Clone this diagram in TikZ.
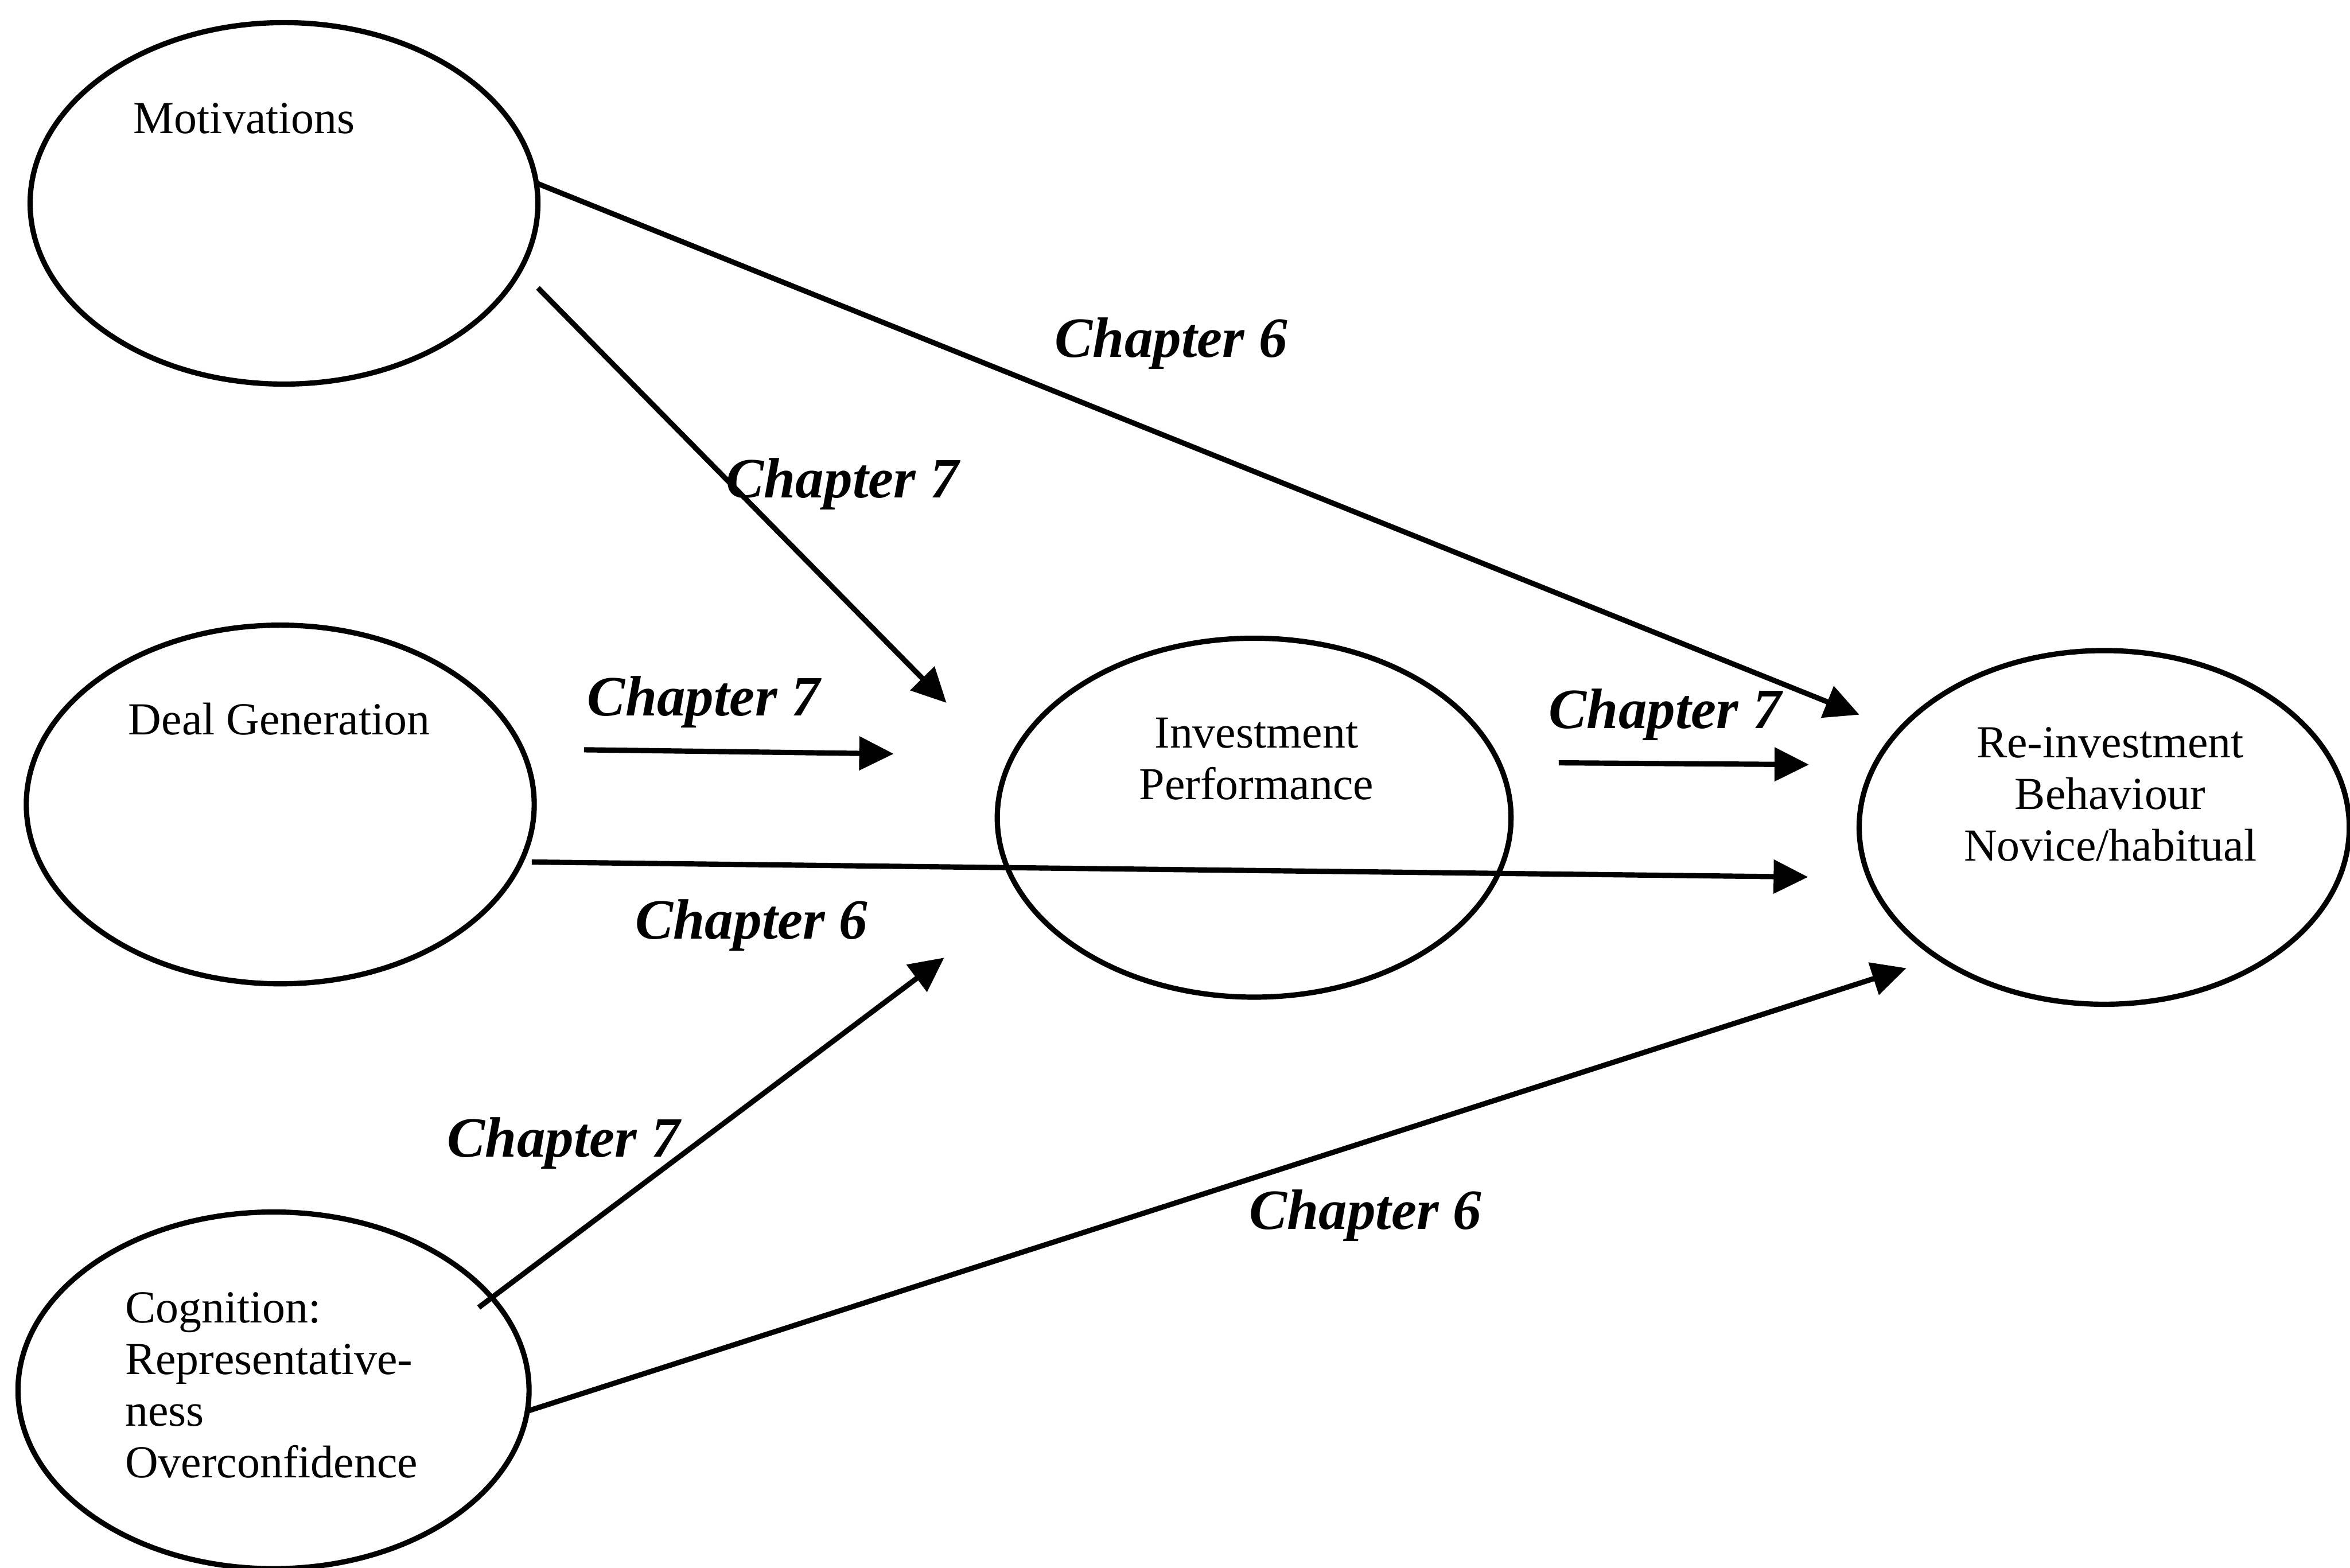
\documentclass[tikz,border=0pt]{standalone}
\usepackage{fontspec}
\setmainfont{Liberation Serif}
\usetikzlibrary{shapes.geometric,arrows.meta}

\tikzset{
  factor/.style={draw, ellipse, line width=1pt, inner sep=0pt},
  factortext/.style={font=\fontsize{8.7}{9.8}\selectfont, inner sep=0pt},
  chaplabel/.style={font=\fontsize{10.8}{12}\selectfont\bfseries\itshape, inner sep=0pt, anchor=base},
  link/.style={line width=1pt, -{Triangle[length=2.3mm, width=2.2mm]}}
}

\begin{document}
\begin{tikzpicture}
\useasboundingbox (0,0) rectangle (15.68,10.46);

% the five factors
\node[factor, minimum width=3.388cm, minimum height=2.412cm] (mot)   at (1.895,9.103) {};
\node[factor, minimum width=3.389cm, minimum height=2.393cm] (deal)  at (1.870,5.092) {};
\node[factor, minimum width=3.428cm, minimum height=2.395cm] (perf)  at (8.368,5.004) {};
\node[factor, minimum width=3.270cm, minimum height=2.360cm] (reinv) at (14.040,4.939) {};
\node[factor, minimum width=3.410cm, minimum height=2.380cm] (cog)   at (1.825,1.183) {};

% texts inside the ellipses (base anchor sits on the last line)
\node[factortext, anchor=base] (motT) at (1.630,9.568) {Motivations};
\node[factortext, anchor=base] (dealT) at (1.863,5.559) {Deal Generation};
\node[factortext, anchor=base, align=center] (perfT) at (8.383,5.126) {Investment\\Performance};
\node[factortext, anchor=base, align=center] (reinvT) at (14.080,4.716) {Re-investment\\Behaviour\\Novice/habitual};
\node[factortext, anchor=base west, align=left] (cogT) at (0.828,0.601) {Cognition:\\Representative-\\ness\\Overconfidence};

% free ends of the connectors
\coordinate (s1) at (3.589,9.234);  \coordinate (e1) at (12.406,5.691);
\coordinate (s2) at (3.589,8.539);  \coordinate (e2) at (6.315,5.770);
\coordinate (s3) at (3.897,5.457);  \coordinate (e3) at (5.963,5.430);
\coordinate (s4) at (3.548,4.708);  \coordinate (e4) at (12.064,4.608);
\coordinate (s5) at (3.194,1.736);  \coordinate (e5) at (6.300,4.070);
\coordinate (s6) at (3.518,1.044);  \coordinate (e6) at (12.720,4.000);
\coordinate (s7) at (10.400,5.370); \coordinate (e7) at (12.070,5.358);

% connectors
\draw[link] (s1) -- (e1);
\draw[link] (s2) -- (e2);
\draw[link] (s3) -- (e3);
\draw[link] (s4) -- (e4);
\draw[link] (s5) -- (e5);
\draw[link] (s6) -- (e6);
\draw[link] (s7) -- (e7);

% chapter labels
\node[chaplabel] (l1) at (7.814,8.075) {Chapter 6};
\node[chaplabel] (l2) at (5.620,7.140) {Chapter 7};
\node[chaplabel] (l3) at (4.695,5.683) {Chapter 7};
\node[chaplabel] (l4) at (5.015,4.194) {Chapter 6};
\node[chaplabel] (l7) at (11.110,5.600) {Chapter 7};
\node[chaplabel] (l5) at (3.760,2.740) {Chapter 7};
\node[chaplabel] (l6) at (9.110,2.260) {Chapter 6};
\end{tikzpicture}
\end{document}
